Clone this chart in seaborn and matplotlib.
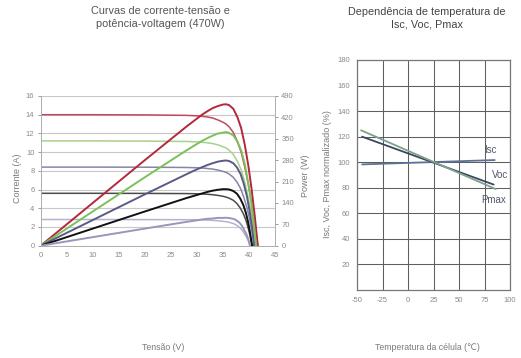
# Curvas I-V / P-V e dependencia de temperatura (modulo 470W)

import matplotlib
matplotlib.use("Agg")
import matplotlib.pyplot as plt
import seaborn as sns

# ---- dados: curvas I-V (corrente, A) e P-V (potencia, W) ----
v_red = [0, 10, 20, 28, 30, 31, 32, 33, 34, 35, 35.6, 36.2, 37, 37.8, 38.5, 39.2, 39.9, 40.5, 41.1, 41.7]
i_red = [14.0, 14.0, 13.98, 13.93, 13.88, 13.83, 13.76, 13.65, 13.45, 13.2, 13.0, 12.7, 12.1, 11.1,
         10.0, 8.4, 6.5, 4.6, 2.4, 0]
p_red = [0, 140, 280, 390, 416, 429, 440, 450, 457, 462, 463, 460, 448, 420, 385, 330, 260, 186, 99, 0]

v_green = [0, 10, 20, 28, 30, 31, 32, 33, 34, 35, 35.6, 36.2, 37, 37.8, 38.5, 39.2, 39.8, 40.4, 40.9, 41.4]
i_green = [11.2, 11.2, 11.18, 11.14, 11.1, 11.06, 11.0, 10.92, 10.78, 10.58, 10.45, 10.2, 9.75, 9.0,
           8.1, 6.8, 5.3, 3.6, 1.9, 0]
p_green = [0, 112, 224, 312, 333, 343, 352, 360, 367, 370, 372, 369, 361, 340, 312, 267, 211, 145, 78, 0]

v_slate = [0, 10, 20, 28, 30, 31, 32, 33, 34, 35, 35.6, 36.2, 37, 37.7, 38.4, 39.0, 39.6, 40.1, 40.6, 41.0]
i_slate = [8.4, 8.4, 8.39, 8.36, 8.33, 8.3, 8.25, 8.19, 8.09, 7.94, 7.84, 7.66, 7.3, 6.8, 6.1, 5.2,
           4.1, 2.9, 1.5, 0]
p_slate = [0, 84, 168, 234, 250, 257, 264, 270, 275, 278, 279, 277, 270, 256, 234, 203, 162, 116, 61, 0]

v_black = [0, 10, 20, 28, 30, 31, 32, 33, 34, 35, 35.6, 36.2, 37, 37.7, 38.3, 38.9, 39.4, 39.8, 40.2, 40.6]
i_black = [5.6, 5.6, 5.59, 5.57, 5.55, 5.53, 5.5, 5.45, 5.38, 5.28, 5.2, 5.08, 4.85, 4.5, 4.05, 3.45,
           2.75, 2.0, 1.1, 0]
p_black = [0, 56, 112, 156, 166, 171, 176, 180, 183, 185, 185, 184, 179, 170, 155, 134, 108, 80, 44, 0]

v_gray = [0, 10, 20, 28, 30, 31, 32, 33, 34, 35, 35.6, 36.2, 37, 37.6, 38.2, 38.7, 39.1, 39.5, 39.9, 40.2]
i_gray = [2.8, 2.8, 2.79, 2.78, 2.77, 2.76, 2.74, 2.71, 2.67, 2.61, 2.57, 2.5, 2.37, 2.2, 1.95, 1.65,
          1.3, 0.95, 0.5, 0]
p_gray = [0, 28, 56, 78, 83, 86, 88, 89, 91, 91, 91.5, 90.5, 88, 83, 75, 64, 51, 38, 20, 0]

# ---- dados: dependencia de temperatura (%) ----
isc_t = [-45, 85]
isc_val = [98.3, 101.7]
voc_t = [-45, 84]
voc_val = [120, 82.5]
pmax_t = [-46, 86]
pmax_val = [125, 79]

tick_gray = "#8a8a8a"
label_gray = "#7a7a7a"

sns.set_theme(style="white")
plt.rcParams["font.family"] = ["Liberation Sans", "DejaVu Sans"]
plt.rcParams["axes.unicode_minus"] = False

fig = plt.figure(figsize=(5.21, 3.58), dpi=100)

# ================= grafico 1 =================
ax = fig.add_axes([40.7 / 521, 1 - 245.7 / 358, (275 - 40.7) / 521, (245.7 - 96) / 358])
ax2 = ax.twinx()

iv_curves = [
    (v_red, i_red, "#c04a5a"),
    (v_green, i_green, "#a9d08e"),
    (v_slate, i_slate, "#8585aa"),
    (v_black, i_black, "#4a4a4a"),
    (v_gray, i_gray, "#b4b2cc"),
]
for v, i, c in iv_curves:
    sns.lineplot(x=v, y=i, ax=ax, color=c, lw=1.1, sort=False, estimator=None)

pv_curves = [
    (v_red, p_red, "#b3283c"),
    (v_green, p_green, "#7dc05a"),
    (v_slate, p_slate, "#5a5a86"),
    (v_black, p_black, "#111111"),
    (v_gray, p_gray, "#9a96ba"),
]
for v, p, c in pv_curves:
    sns.lineplot(x=v, y=p, ax=ax2, color=c, lw=1.4, sort=False, estimator=None)

ax.set_xlim(0, 45)
ax.set_ylim(0, 16)
ax.set_xticks(range(0, 46, 5))
ax.set_yticks(range(0, 17, 2))
ax.yaxis.grid(True, color="#c8c8c8", lw=0.8)
ax.set_axisbelow(True)
ax2.set_ylim(0, 490)
ax2.set_yticks(range(0, 491, 70))

for a in (ax, ax2):
    a.tick_params(labelsize=5.5, colors=tick_gray, length=2.5, width=0.6, pad=2)
    for s in a.spines.values():
        s.set_color("#b0b0b0")
        s.set_linewidth(0.7)
    a.spines["top"].set_visible(False)
ax2.grid(False)
ax.set_xlabel("")
ax.set_ylabel("")

# ================= grafico 2 =================
bx = fig.add_axes([357 / 521, 1 - 290 / 358, 153 / 521, 230 / 358])
sns.lineplot(x=isc_t, y=isc_val, ax=bx, color="#5b7296", lw=1.3)
sns.lineplot(x=voc_t, y=voc_val, ax=bx, color="#3c4660", lw=1.3)
sns.lineplot(x=pmax_t, y=pmax_val, ax=bx, color="#7fa08a", lw=1.3)

bx.set_xlim(-50, 100)
bx.set_ylim(0, 180)
bx.set_xticks(range(-50, 101, 25))
bx.set_yticks(range(20, 181, 20))
bx.grid(True, color="#5e5e5e", lw=0.75)
for s in bx.spines.values():
    s.set_color("#777777")
    s.set_linewidth(0.9)
bx.tick_params(labelsize=5.5, colors=tick_gray, length=0, pad=5)

bx.text(80.5, 109.5, "Isc", fontsize=7, color="#505868", ha="center", va="center")
bx.text(90, 90, "Voc", fontsize=7, color="#505868", ha="center", va="center")
bx.text(83.5, 70.5, "Pmax", fontsize=7, color="#505868", ha="center", va="center")

# ---- titulos e rotulos ----
fig.text(160 / 521, 1 - 17.5 / 358, "Curvas de corrente-tensão e\npotência-voltagem (470W)",
         ha="center", va="center", fontsize=7.8, color="#555555", linespacing=1.45)
fig.text(427 / 521, 1 - 18.5 / 358, "Dependência de temperatura de\nIsc, Voc, Pmax",
         ha="center", va="center", fontsize=7.8, color="#444444", linespacing=1.35)

fig.text(163 / 521, 1 - 347 / 358, "Tensão (V)", ha="center", va="center",
         fontsize=6.3, color=label_gray)
fig.text(427 / 521, 1 - 347 / 358, "Temperatura da célula (℃)", ha="center", va="center",
         fontsize=6.3, color=label_gray)
fig.text(18 / 521, 1 - 178 / 358, "Corrente (A)", ha="center", va="center", rotation=90,
         fontsize=6.5, color=label_gray)
fig.text(305 / 521, 1 - 176 / 358, "Power (W)", ha="center", va="center", rotation=90,
         fontsize=6.5, color=label_gray)
fig.text(328 / 521, 1 - 174 / 358, "Isc, Voc, Pmax normalizado (%)", ha="center", va="center",
         rotation=90, fontsize=6.5, color=label_gray)

fig.savefig("out.png", dpi=100, facecolor="white")
